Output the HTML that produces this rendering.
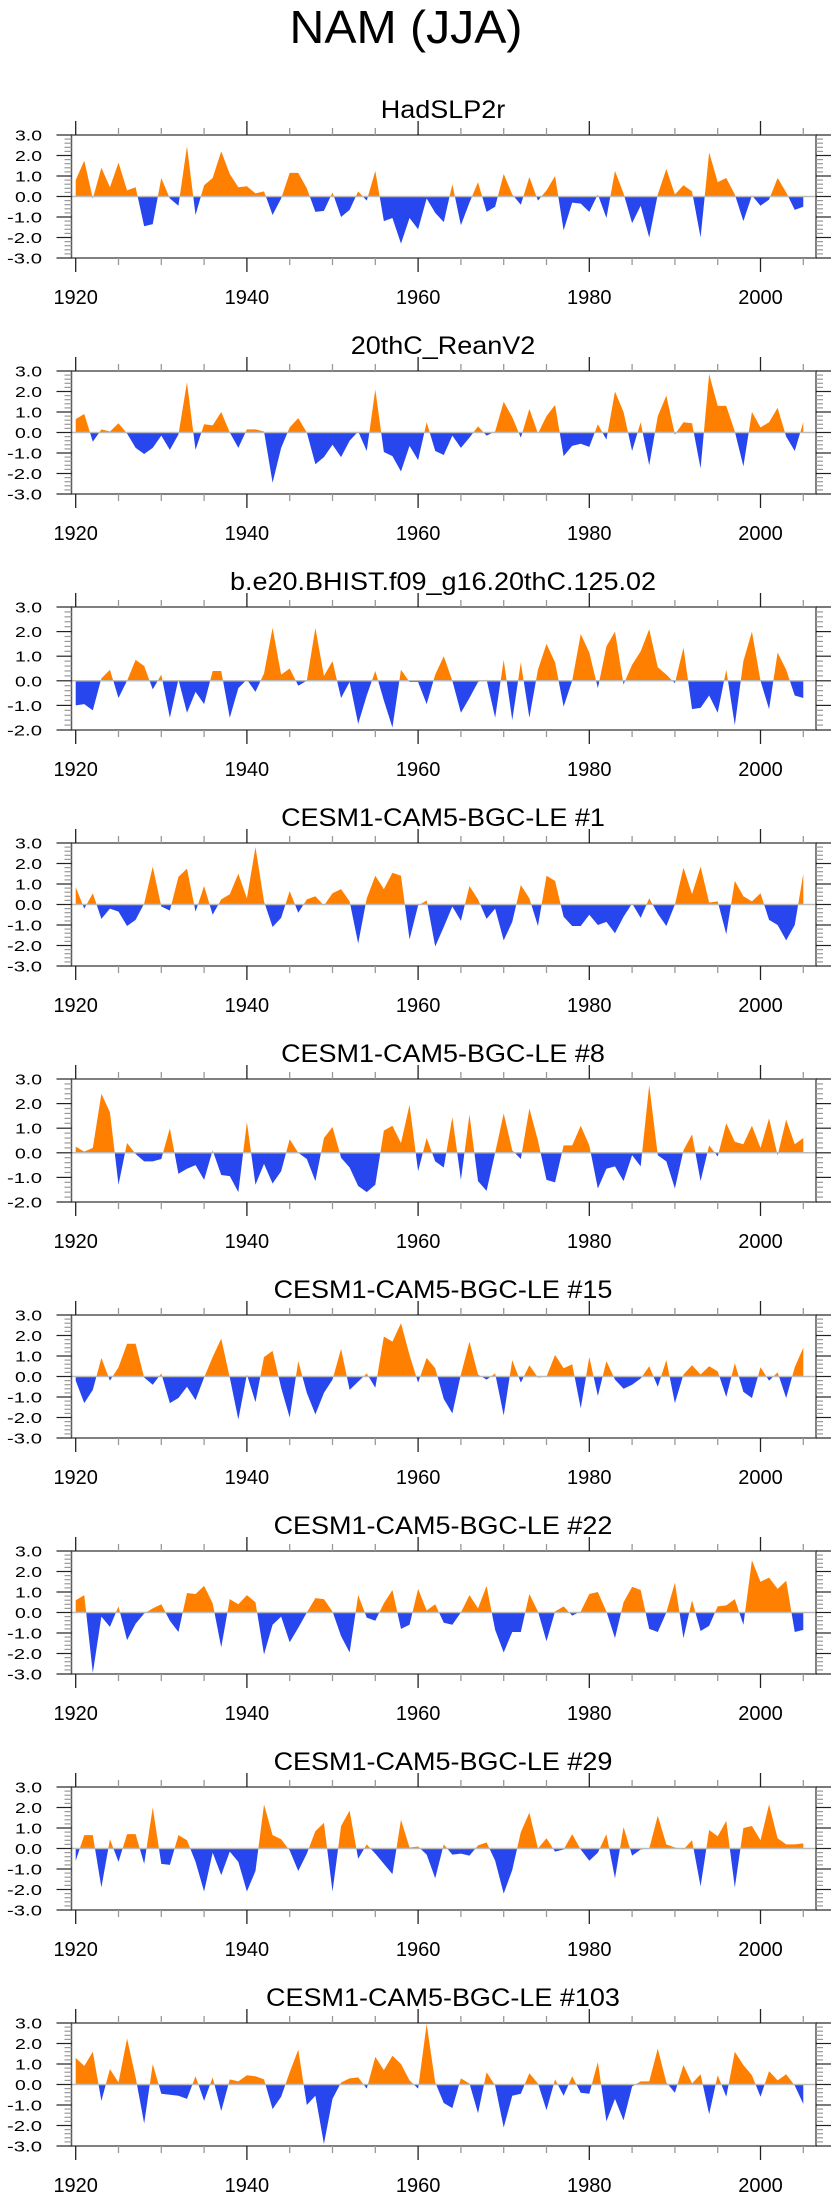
<!DOCTYPE html>
<html><head><meta charset="utf-8"><title>NAM (JJA)</title>
<style>
html,body{margin:0;padding:0;background:#fff;}
svg{display:block;font-family:"Liberation Sans",Arial,sans-serif;}
</style></head>
<body>
<svg id="chart" xmlns="http://www.w3.org/2000/svg" width="840" height="2200" viewBox="0 0 840 2200">
<rect width="840" height="2200" fill="#fff"/>
<text x="406" y="43" font-size="46" text-anchor="middle" textLength="233" lengthAdjust="spacingAndGlyphs">NAM (JJA)</text>
</svg>
<script>
const years = [];
for (let y = 1920; y <= 2005; y++) years.push(y);
const panelTitles = ["HadSLP2r","20thC_ReanV2","b.e20.BHIST.f09_g16.20thC.125.02","CESM1-CAM5-BGC-LE #1","CESM1-CAM5-BGC-LE #8","CESM1-CAM5-BGC-LE #15","CESM1-CAM5-BGC-LE #22","CESM1-CAM5-BGC-LE #29","CESM1-CAM5-BGC-LE #103"];
const yMins = [-3,-3,-2,-3,-2,-3,-3,-3,-3];
const yMax = 3;
const xTickLabels = [1920,1940,1960,1980,2000];
const hadslp2r = [0.8,1.75,-0.1,1.4,0.45,1.65,0.3,0.45,-1.45,-1.35,0.9,-0.1,-0.45,2.45,-0.9,0.55,0.9,2.2,1.1,0.45,0.5,0.15,0.25,-0.9,-0.1,1.15,1.15,0.4,-0.75,-0.7,0.2,-1.0,-0.65,0.25,-0.2,1.25,-1.2,-1.05,-2.3,-1.05,-1.6,-0.1,-0.8,-1.25,0.6,-1.4,-0.3,0.7,-0.75,-0.5,1.1,0.1,-0.4,0.95,-0.2,0.3,1.0,-1.65,-0.3,-0.35,-0.75,0.1,-1.05,1.25,0.15,-1.3,-0.45,-2.0,0.1,1.35,0.1,0.55,0.25,-2.0,2.15,0.7,0.9,0.1,-1.2,0.05,-0.45,-0.15,0.9,0.2,-0.65,-0.5];
const reanV2 = [0.65,0.9,-0.45,0.15,0.05,0.45,-0.05,-0.75,-1.05,-0.75,-0.15,-0.85,-0.1,2.45,-0.85,0.4,0.35,1.0,0,-0.75,0.15,0.15,0.05,-2.45,-0.75,0.25,0.7,0,-1.55,-1.2,-0.6,-1.2,-0.4,0.05,-0.9,2.1,-0.95,-1.15,-1.9,-0.65,-1.35,0.5,-0.9,-1.1,-0.15,-0.75,-0.25,0.3,-0.15,0.05,1.5,0.75,-0.25,1.15,-0.05,0.8,1.35,-1.15,-0.65,-0.55,-0.7,0.4,-0.35,2.0,1.0,-0.9,0.5,-1.6,0.8,1.8,-0.1,0.5,0.45,-1.75,2.85,1.3,1.3,0.05,-1.65,1.0,0.25,0.5,1.2,-0.2,-0.9,0.5];
const bhist = [-1.0,-0.95,-1.2,0.1,0.45,-0.7,0,0.85,0.6,-0.35,0.25,-1.5,0.05,-1.3,-0.45,-0.95,0.4,0.4,-1.5,-0.3,0.05,-0.45,0.3,2.15,0.25,0.5,-0.2,0.0,2.15,0.2,0.8,-0.7,-0.05,-1.75,-0.6,0.4,-0.8,-1.9,0.45,-0.05,-0.05,-0.95,0.25,1.0,0,-1.3,-0.7,-0.05,0.05,-1.5,0.85,-1.6,0.75,-1.5,0.45,1.5,0.75,-1.05,0,1.9,1.15,-0.3,1.4,2.0,-0.15,0.65,1.2,2.1,0.55,0.25,-0.1,1.35,-1.15,-1.1,-0.6,-1.3,0.45,-1.8,0.8,2.0,0,-1.15,1.15,0.45,-0.6,-0.7];
const le1 = [0.85,-0.2,0.55,-0.7,-0.2,-0.35,-1.05,-0.75,0.05,1.85,-0.1,-0.3,1.35,1.75,-0.35,0.9,-0.5,0.25,0.5,1.5,0.3,2.8,0.15,-1.1,-0.65,0.65,-0.4,0.25,0.4,-0.05,0.55,0.75,0.15,-1.9,0.3,1.4,0.75,1.55,1.4,-1.7,-0.05,0.2,-2.05,-1.1,-0.1,-0.8,0.9,0.25,-0.7,-0.2,-1.75,-0.85,0.95,0.3,-1.05,1.4,1.15,-0.6,-1.05,-1.05,-0.5,-1.0,-0.85,-1.4,-0.6,0.05,-0.65,0.3,-0.45,-1.05,0,1.8,0.5,1.85,0.1,0.15,-1.45,1.15,0.4,0.15,0.55,-0.75,-1.0,-1.75,-1.0,1.5];
const le8 = [0.25,0.05,0.2,2.4,1.65,-1.3,0.4,-0.05,-0.35,-0.35,-0.25,1.0,-0.85,-0.65,-0.5,-1.1,0.1,-0.9,-0.95,-1.6,1.25,-1.3,-0.45,-1.25,-0.75,0.55,0,-0.25,-1.15,0.6,1.05,-0.2,-0.6,-1.35,-1.6,-1.3,0.9,1.1,0.4,1.95,-0.75,0.6,-0.35,-0.6,1.45,-1.1,1.55,-1.15,-1.55,0,1.6,0.1,-0.25,1.8,0.5,-1.1,-1.2,0.3,0.3,1.1,0.3,-1.45,-0.65,-0.55,-1.15,-0.1,-0.55,2.75,-0.1,-0.35,-1.45,0.1,0.75,-1.15,0.3,-0.15,1.2,0.45,0.35,1.1,0.2,1.4,-0.1,1.35,0.35,0.6];
const le15 = [-0.2,-1.3,-0.65,0.9,-0.2,0.45,1.6,1.6,-0.05,-0.4,0.15,-1.3,-1.05,-0.5,-1.15,-0.05,0.95,1.85,-0.05,-2.1,0.1,-1.25,0.95,1.25,-0.55,-2.0,0.75,-0.8,-1.85,-0.8,-0.15,1.35,-0.65,-0.25,0.15,-0.55,1.95,1.7,2.6,1.05,-0.3,0.9,0.4,-1.1,-1.8,0.1,1.7,0.1,-0.15,0.15,-1.9,0.8,-0.3,0.55,-0.05,0,1.05,0.4,0.6,-1.55,0.95,-0.95,0.75,-0.15,-0.6,-0.4,-0.1,0.5,-0.5,0.8,-1.3,0.1,0.55,0.1,0.5,0.25,-1.0,0.65,-0.75,-1.05,0.45,-0.2,0.2,-1.05,0.45,1.4];
const le22 = [0.6,0.85,-2.95,-0.2,-0.7,0.3,-1.35,-0.55,-0.05,0.2,0.4,-0.4,-0.95,0.95,0.9,1.3,0.45,-1.7,0.65,0.4,0.85,0.5,-2.05,-0.6,-0.2,-1.45,-0.75,0,0.7,0.65,0.05,-1.15,-1.95,0.85,-0.25,-0.4,0.45,1.1,-0.8,-0.6,1.15,0.1,0.4,-0.5,-0.6,0,0.85,0.2,1.3,-0.85,-1.95,-0.95,-0.95,0.9,0.05,-1.4,0.05,0.3,-0.15,0.05,0.9,1.0,0.05,-1.25,0.5,1.25,1.1,-0.8,-0.95,0,1.45,-1.25,0.6,-0.9,-0.65,0.3,0.35,0.65,-0.6,2.55,1.5,1.7,1.15,1.55,-0.95,-0.85];
const le29 = [-0.6,0.65,0.65,-1.9,0.45,-0.65,0.7,0.7,-0.75,2.0,-0.75,-0.8,0.65,0.4,-0.65,-2.1,-0.2,-1.3,-0.15,-0.65,-2.1,-1.1,2.15,0.65,0.45,-0.1,-1.1,-0.25,0.85,1.25,-2.1,1.1,1.85,-0.5,0.2,-0.25,-0.75,-1.25,1.4,0.05,0.1,-0.3,-1.45,0.2,-0.3,-0.25,-0.35,0.15,0.3,-0.6,-2.2,-1.05,0.8,1.75,0,0.5,-0.15,-0.05,0.7,-0.05,-0.6,-0.2,0.7,-1.45,1.05,-0.35,-0.05,0,1.6,0.2,0.05,-0.05,0.4,-1.85,0.9,0.6,1.35,-1.9,1.0,1.1,0.4,2.15,0.5,0.2,0.2,0.25];
const le103 = [1.3,0.9,1.6,-0.8,0.75,0.1,2.25,0.35,-1.9,1.0,-0.45,-0.5,-0.55,-0.7,0.4,-0.8,0.35,-1.3,0.25,0.15,0.45,0.4,0.25,-1.2,-0.6,0.6,1.7,-1.0,-0.55,-2.9,-0.7,0.1,0.3,0.35,-0.2,1.35,0.7,1.4,1.0,0.2,-0.2,2.95,0.1,-0.9,-1.15,0.3,0.05,-1.4,0.6,-0.05,-2.1,-0.55,-0.45,0.55,0.05,-1.25,0.25,-0.55,0.4,-0.4,-0.45,1.1,-1.8,-0.7,-1.75,-0.1,0.15,0.15,1.75,0.1,-0.4,0.95,0.05,0.5,-1.45,0.45,-0.6,1.6,0.95,0.45,-0.6,0.65,0.2,0.5,-0.05,-0.95];
const seriesList = [hadslp2r, reanV2, bhist, le1, le8, le15, le22, le29, le103];

const NS = "http://www.w3.org/2000/svg";
const svg = document.getElementById("chart");
const BOX_L = 71.5, BOX_R = 816, BOX_H = 123, TOP0 = 135, STEP = 236;
function xScale(yr){ return 75.7 + (yr - 1920) * 8.56; }
function mk(tag, attrs, parent){
  const e = document.createElementNS(NS, tag);
  for (const k in attrs) e.setAttribute(k, attrs[k]);
  (parent || svg).appendChild(e);
  return e;
}

seriesList.forEach((vals, p) => {
  const top = TOP0 + STEP * p, bot = top + BOX_H;
  const yMin = yMins[p];
  const yScale = v => top + (yMax - v) / (yMax - yMin) * BOX_H;
  const zero = yScale(0);
  const g = mk("g", {});
  
  

  const title = mk("text", {x: 443, y: top - 17, "font-size": 25, "text-anchor": "middle"}, g);
  
  
  title.textContent = panelTitles[p];
  title.setAttribute("transform", "translate(443,0) scale(1.08,1) translate(-443,0)");

  // clip paths
  const defs = mk("defs", {}, g);
  const cpA = mk("clipPath", {id: "ca" + p}, defs);
  mk("rect", {x: BOX_L, y: top, width: BOX_R - BOX_L, height: zero - top}, cpA);
  const cpB = mk("clipPath", {id: "cb" + p}, defs);
  mk("rect", {x: BOX_L, y: zero, width: BOX_R - BOX_L, height: bot - zero}, cpB);

  let d = "M" + xScale(years[0]) + "," + zero;
  vals.forEach((v, i) => { d += " L" + xScale(years[i]).toFixed(2) + "," + yScale(v).toFixed(2); });
  d += " L" + xScale(years[vals.length - 1]) + "," + zero + " Z";
  const pos = mk("path", {d: d, fill: "#ff8000", "clip-path": "url(#ca" + p + ")"}, g);
  
  
  const neg = mk("path", {d: d, fill: "#2846ee", "clip-path": "url(#cb" + p + ")"}, g);
  
  

  const zl = mk("line", {x1: BOX_L, x2: BOX_R, y1: zero, y2: zero, stroke: "#bbb", "stroke-width": 1.5}, g);
  
  

  const box = mk("rect", {x: BOX_L, y: top, width: BOX_R - BOX_L, height: BOX_H, fill: "none", stroke: "#555", "stroke-width": 1.5}, g);
  
  

  // x ticks
  for (let yr = 1920; yr <= 2005; yr += 5) {
    const x = xScale(yr), major = (yr % 20 === 0);
    const len = major ? 14 : 7, col = major ? "#222" : "#999";
    mk("line", {x1: x, x2: x, y1: top, y2: top - len, stroke: col, "stroke-width": 1.3}, g);
    mk("line", {x1: x, x2: x, y1: bot, y2: bot + len, stroke: col, "stroke-width": 1.3}, g);
  }
  xTickLabels.forEach(yr => {
    const t = mk("text", {x: xScale(yr), y: top + 169, "font-size": 20, "text-anchor": "middle"}, g);
    
    
    t.textContent = String(yr);
  });
  // y ticks
  for (let k = yMin * 5; k <= yMax * 5; k++) {
    const v = k / 5, y = yScale(v), major = (k % 5 === 0);
    const len = major ? 15 : 7, col = major ? "#222" : "#999";
    mk("line", {x1: BOX_L, x2: BOX_L - len, y1: y, y2: y, stroke: col, "stroke-width": 1.2}, g);
    mk("line", {x1: BOX_R, x2: BOX_R + len, y1: y, y2: y, stroke: col, "stroke-width": 1.2}, g);
  }
  for (let v = yMin; v <= yMax; v++) {
    const lbl = v.toFixed(1);
    const t = mk("text", {x: 42, y: yScale(v) + 5.5, "font-size": 15, "text-anchor": "end",
      textLength: v < 0 ? 35 : 27, lengthAdjust: "spacingAndGlyphs"}, g);
    
    
    t.textContent = lbl;
  }
});
</script>
</body></html>
